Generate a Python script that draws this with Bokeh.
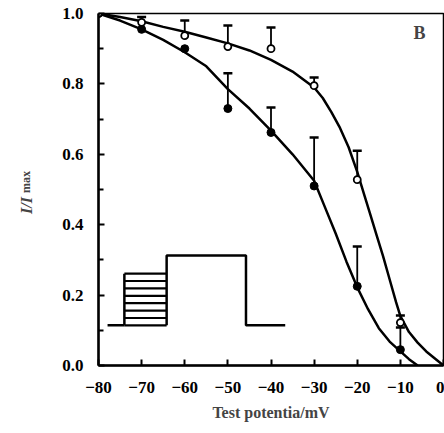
from bokeh.plotting import figure
from bokeh.models import FixedTicker, PrintfTickFormatter, Label, LinearAxis
from bokeh.embed import file_html
from bokeh.resources import INLINE

NaN = float("nan")

# measured points
volt = [-80, -70, -60, -50, -40, -30, -20, -10]
open_val = [1.0, 0.975, 0.937, 0.906, 0.900, 0.795, 0.528, 0.122]
open_err_top = [NaN, 0.99, 0.98, 0.966, 0.960, 0.818, 0.610, 0.142]
fill_val = [1.0, 0.955, 0.900, 0.730, 0.662, 0.510, 0.225, 0.045]
fill_err_top = [NaN, NaN, NaN, 0.830, 0.733, 0.648, 0.338, 0.108]

# fitted curves
curve_open_x = [-80, -75, -70, -65, -60, -55, -50, -45, -40, -35, -30, -28, -26, -24, -22, -20, -18.5, -17, -15.5, -14, -12.5, -11, -10, -8, -6, -4, -2, 0]
curve_open_y = [1.0, 0.99, 0.978, 0.962, 0.948, 0.932, 0.915, 0.895, 0.868, 0.835, 0.79, 0.76, 0.72, 0.675, 0.62, 0.55, 0.49, 0.43, 0.37, 0.31, 0.245, 0.18, 0.14, 0.095, 0.065, 0.04, 0.02, 0.0]
curve_fill_x = [-80, -75, -70, -65, -60, -55, -50, -45, -40, -35, -30, -27.5, -25, -22.5, -20, -17.5, -15, -12.5, -10, -8, -6]
curve_fill_y = [1.0, 0.98, 0.955, 0.925, 0.89, 0.85, 0.785, 0.73, 0.667, 0.60, 0.525, 0.45, 0.375, 0.295, 0.222, 0.16, 0.106, 0.068, 0.04, 0.018, 0.0]

# voltage protocol inset
pulse_x = [-77.9, -74.0]
pulse_y = [0.114, 0.114]
step_x0, step_x1 = -74.0, -64.2
step_levels = [0.114, 0.135, 0.156, 0.177, 0.198, 0.219, 0.240, 0.261]
test_x = [-64.2, -64.2, -45.8, -45.8, -36.7]
test_y = [0.114, 0.3125, 0.3125, 0.114, 0.114]

x_ticks = [-80, -70, -60, -50, -40, -30, -20, -10, 0]
y_ticks = [0.0, 0.2, 0.4, 0.6, 0.8, 1.0]
y_minor = [0.1, 0.3, 0.5, 0.7, 0.9]

FONT = "Liberation Serif"
NB = "\u00a0"

p = figure(width=444, height=433, x_range=(-80, 0), y_range=(0, 1.0),
           output_backend="svg", toolbar_location=None,
           min_border_left=98, min_border_right=1, min_border_top=13, min_border_bottom=68)
p.xgrid.visible = False
p.ygrid.visible = False
p.outline_line_color = "black"
p.outline_line_width = 1.5
p.background_fill_color = "white"
p.border_fill_color = "white"

p.xaxis.ticker = FixedTicker(ticks=x_ticks, minor_ticks=[])
p.yaxis.ticker = FixedTicker(ticks=y_ticks, minor_ticks=y_minor)
p.yaxis.formatter = PrintfTickFormatter(format="%.1f")
for ax in (p.xaxis[0], p.yaxis[0]):
    ax.axis_line_width = 2.5
    ax.axis_line_color = "black"
    ax.major_tick_in = 6
    ax.major_tick_out = 0
    ax.minor_tick_in = 5
    ax.minor_tick_out = 0
    ax.major_tick_line_width = 2
    ax.minor_tick_line_width = 2
    ax.major_label_text_font = FONT
    ax.major_label_text_font_style = "bold"
    ax.major_label_text_font_size = "17px"
    ax.major_label_text_color = "black"
p.xaxis.major_label_standoff = 16
p.yaxis.major_label_standoff = 15
p.xaxis.axis_label = "Test potentia/mV"
p.xaxis.axis_label_text_font = FONT
p.xaxis.axis_label_text_font_style = "bold"
p.xaxis.axis_label_text_font_size = "16px"
p.xaxis.axis_label_standoff = 8

# y axis label I/I_max : subscript on the inner axis, main symbol on an outer label-only axis
p.yaxis.axis_label = NB * 5 + "max"
p.yaxis.axis_label_text_font = FONT
p.yaxis.axis_label_text_font_style = "bold"
p.yaxis.axis_label_text_font_size = "12px"
p.yaxis.axis_label_standoff = 26

lab_axis = LinearAxis(ticker=FixedTicker(ticks=[], minor_ticks=[]), axis_line_color=None,
                      major_tick_line_color=None, minor_tick_line_color=None,
                      major_label_text_font_size="0px",
                      axis_label="I/I" + NB * 8, axis_label_text_font=FONT,
                      axis_label_text_font_style="bold italic",
                      axis_label_text_font_size="16px", axis_label_standoff=-18)
p.add_layout(lab_axis, "left")

# curves
p.line(curve_open_x, curve_open_y, line_color="black", line_width=2.5)
p.line(curve_fill_x, curve_fill_y, line_color="black", line_width=2.5)

# error bars
p.segment(x0=volt, y0=open_val, x1=volt, y1=open_err_top, line_color="black", line_width=1.8)
p.segment(x0=volt, y0=fill_val, x1=volt, y1=fill_err_top, line_color="black", line_width=1.8)
p.scatter(volt, open_err_top, marker="dash", size=9, line_color="black", line_width=2.5)
p.scatter(volt, fill_err_top, marker="dash", size=9, line_color="black", line_width=2.5)

# markers
p.scatter(volt, fill_val, marker="circle", size=8, fill_color="black", line_color="black")
p.scatter(volt, open_val, marker="circle", size=7, fill_color="white", line_color="black", line_width=1.8)

# protocol inset
p.line(pulse_x, pulse_y, line_color="black", line_width=2.5)
p.multi_line([[step_x0, step_x1] for _ in step_levels], [[lv, lv] for lv in step_levels],
             line_color="black", line_width=2.2)
p.line([step_x0, step_x0], [step_levels[0], step_levels[-1]], line_color="black", line_width=2.5)
p.line(test_x, test_y, line_color="black", line_width=2.5)

# panel letter
p.add_layout(Label(x=321, y=333, x_units="screen", y_units="screen", text="B",
                   text_font=FONT, text_font_style="bold", text_font_size="18px",
                   text_align="center", text_baseline="middle"))

open("out.html", "w").write(file_html(p, INLINE))
